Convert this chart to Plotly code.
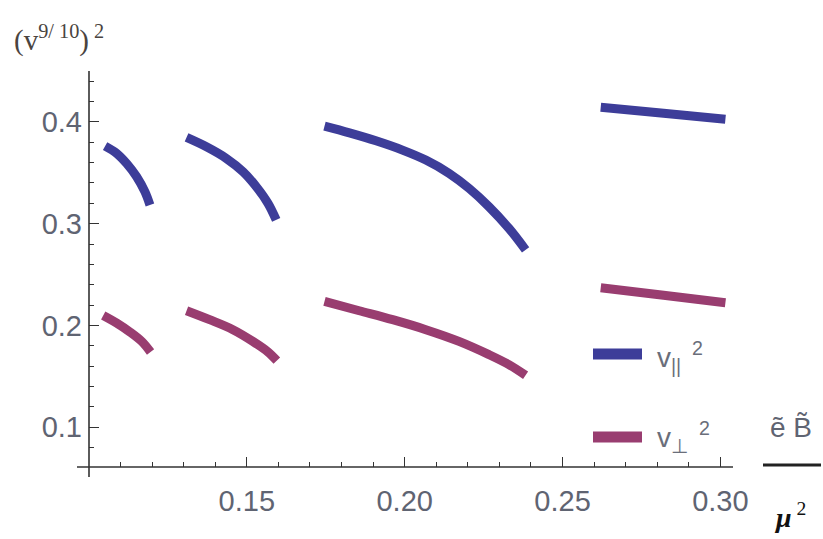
import plotly.graph_objects as go

# Sampled curve segments, (e~ B~ / mu^2, (v^{9/10})^2)
par_x = [
    [0.1051, 0.1088, 0.1119, 0.1151, 0.1177, 0.1193],
    [0.1309, 0.1372, 0.1435, 0.1488, 0.1530, 0.1567, 0.1593],
    [0.1746, 0.1825, 0.1909, 0.1993, 0.2067, 0.2141, 0.2204, 0.2267, 0.2330, 0.2383],
    [0.2621, 0.2820, 0.3016],
]
par_y = [
    [0.3762, 0.3690, 0.3592, 0.3461, 0.3314, 0.3184],
    [0.3847, 0.3755, 0.3641, 0.3510, 0.3363, 0.3200, 0.3037],
    [0.3958, 0.3892, 0.3814, 0.3723, 0.3625, 0.3494, 0.3347, 0.3167, 0.2955, 0.2743],
    [0.4144, 0.4085, 0.4026],
]
perp_x = [
    [0.1045, 0.1088, 0.1130, 0.1167, 0.1195],
    [0.1309, 0.1382, 0.1456, 0.1519, 0.1567, 0.1595],
    [0.1746, 0.1856, 0.1962, 0.2067, 0.2172, 0.2267, 0.2330, 0.2383],
    [0.2621, 0.2820, 0.3016],
]
perp_y = [
    [0.2099, 0.2024, 0.1936, 0.1844, 0.1740],
    [0.2145, 0.2057, 0.1959, 0.1844, 0.1740, 0.1655],
    [0.2236, 0.2145, 0.2057, 0.1959, 0.1844, 0.1714, 0.1616, 0.1511],
    [0.2370, 0.2297, 0.2223],
]
x_ticks = [0.15, 0.20, 0.25, 0.30]
x_tick_text = ["0.15", "0.20", "0.25", "0.30"]
y_ticks = [0.1, 0.2, 0.3, 0.4]
y_tick_text = ["0.1", "0.2", "0.3", "0.4"]

BLUE = "#3d3d99"
PURPLE = "#993d70"
W, H = 823, 539
L, R, T, B = 89, 90, 71, 72
PW, PH = W - L - R, H - T - B


def px(xp):
    return (xp - L) / PW


def py(yp):
    return (H - B - yp) / PH


fig = go.Figure()
for xs, ys in zip(par_x, par_y):
    fig.add_trace(go.Scatter(x=xs, y=ys, mode="lines", line=dict(color=BLUE, width=9, shape="spline", smoothing=1.0),
                             showlegend=False, hoverinfo="skip"))
for xs, ys in zip(perp_x, perp_y):
    fig.add_trace(go.Scatter(x=xs, y=ys, mode="lines", line=dict(color=PURPLE, width=9, shape="spline", smoothing=1.0),
                             showlegend=False, hoverinfo="skip"))

tick_font = dict(family="Liberation Sans, Arial, sans-serif", size=29, color="#5f6472")
fig.update_xaxes(
    range=[0.1, 0.304], tickvals=x_ticks, ticktext=x_tick_text, ticks="inside", ticklen=10,
    tickwidth=1.4, tickcolor="#333", showgrid=False, zeroline=False, showline=False,
    tickfont=tick_font, ticklabelstandoff=14,
    minor=dict(dtick=0.01, tick0=0.1, ticks="inside", ticklen=5, tickwidth=1.2, tickcolor="#333", showgrid=False),
)
fig.update_yaxes(
    range=[0.061, 0.45], tickvals=y_ticks, ticktext=y_tick_text, ticks="inside", ticklen=10,
    tickwidth=1.4, tickcolor="#333", showgrid=False, zeroline=False, showline=False,
    tickfont=tick_font, ticklabelstandoff=6,
    minor=dict(dtick=0.02, tick0=0.0, ticks="inside", ticklen=5, tickwidth=1.2, tickcolor="#333", showgrid=False),
)

shapes = [
    # axes crossing slightly past the origin
    dict(type="line", xref="paper", yref="paper", x0=px(77), x1=1, y0=0, y1=0,
         line=dict(color="#333", width=1.6)),
    dict(type="line", xref="paper", yref="paper", x0=0, x1=0, y0=py(477), y1=1,
         line=dict(color="#333", width=1.6)),
    # legend swatches
    dict(type="line", xref="paper", yref="paper", x0=px(593), x1=px(642), y0=py(354), y1=py(354),
         line=dict(color=BLUE, width=11)),
    dict(type="line", xref="paper", yref="paper", x0=px(593), x1=px(642), y0=py(437), y1=py(437),
         line=dict(color=PURPLE, width=11)),
    # fraction bar of the x-axis label
    dict(type="line", xref="paper", yref="paper", x0=px(763), x1=px(821), y0=py(465), y1=py(465),
         line=dict(color="#222", width=3)),
]

label_font = dict(family="Liberation Sans, Arial, sans-serif", size=28, color="#6a6e7a")
annotations = [
    dict(text="(v<sup>9/ 10</sup>)<sup> 2</sup>", x=px(12), y=py(38), xanchor="left", yanchor="middle",
         font=dict(family="Liberation Serif, Times New Roman, serif", size=29, color="#4a4440")),
    dict(text="v<sub>||</sub><sup>  2</sup>", x=px(655), y=py(357), xanchor="left", yanchor="middle",
         font=label_font),
    dict(text="v<sub>⊥</sub><sup>  2</sup>", x=px(655), y=py(437), xanchor="left", yanchor="middle",
         font=label_font),
    dict(text="ẽ B̃", x=px(791), y=py(427), xanchor="center", yanchor="middle",
         font=dict(family="Liberation Sans, Arial, sans-serif", size=28, color="#5f6472")),
    dict(text="<b><i>μ</i></b><sup> 2</sup>", x=px(790), y=py(515), xanchor="center", yanchor="middle",
         font=dict(family="Liberation Serif, Times New Roman, serif", size=28, color="#111")),
]
for a in annotations:
    a.update(xref="paper", yref="paper", showarrow=False)

fig.update_layout(
    width=W, height=H, margin=dict(l=L, r=R, t=T, b=B),
    paper_bgcolor="white", plot_bgcolor="white",
    shapes=shapes, annotations=annotations, showlegend=False,
)
fig.write_html("out.html")
